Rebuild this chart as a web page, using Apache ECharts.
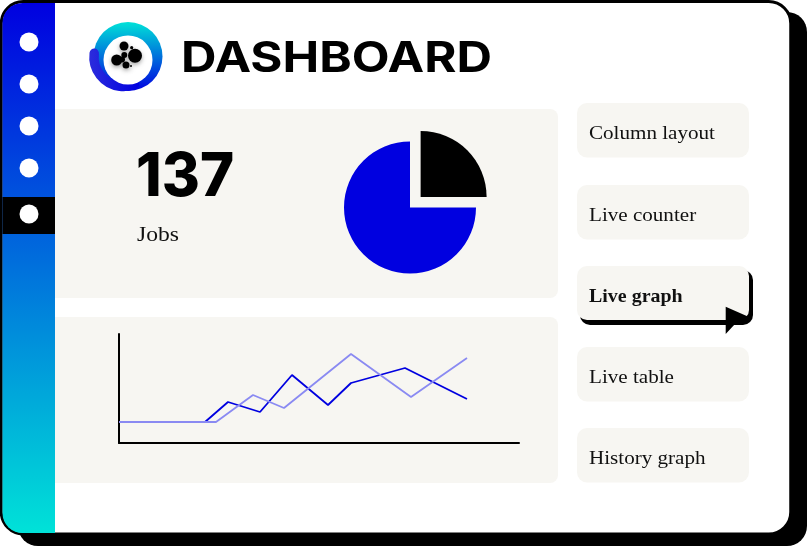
<!DOCTYPE html>
<html lang="en">

<head>
    <meta charset="UTF-8">
    <title>Dashboard</title>
    <style>
        html, body { margin: 0; padding: 0; background: #fff; overflow: hidden; }
    </style>
</head>

<body>
    <div id="main" style="width: 807px;height:546px;"></div>

    <script src="https://cdn.jsdelivr.net/npm/echarts@6/dist/echarts.min.js"></script>
    <script>
        let titleText = 'DASHBOARD';
        let counterValue = '137';
        let counterLabel = 'Jobs';
        let menuLabels = ['Column layout', 'Live counter', 'Live graph', 'Live table', 'History graph'];
        let activeMenu = 'Live graph';

        let pieNames = ['done', 'rest'];
        let pieValues = [25, 75];

        // line chart
        let darkX = [0, 86, 109, 141, 173, 209, 232, 286, 348];
        let darkY = [21, 21, 41, 31, 68, 38, 60, 75, 44];
        let lightX = [0, 97, 134, 165, 232, 292, 348];
        let lightY = [21, 21, 48, 35, 89, 46, 85];

        let BLUE = '#0000e0';
        let LIGHT = '#8a8af2';
        let PANEL = '#f7f6f2';
        let SERIF = '"Liberation Serif", serif';

        function zip(xs, ys) {
            return xs.map(function (x, i) { return [x, ys[i]]; });
        }

        function rect(x, y, w, h, r, fill, z) {
            return {
                type: 'rect', silent: true, z: z,
                shape: { x: x, y: y, width: w, height: h, r: r },
                style: { fill: fill }
            };
        }

        function circle(cx, cy, r, fill, z) {
            return {
                type: 'circle', silent: true, z: z,
                shape: { cx: cx, cy: cy, r: r },
                style: { fill: fill }
            };
        }

        function label(text, x, y, font, fill, scaleX, z) {
            return {
                type: 'text', silent: true, z: z,
                x: x, y: y, scaleX: scaleX || 1,
                style: { text: text, font: font, fill: fill || '#000', verticalAlign: 'middle' }
            };
        }

        let elements = [];

        // card and its shadow
        elements.push(rect(18, 12, 789, 534, 20, '#000', 0));
        elements.push({
            type: 'rect', silent: true, z: 1,
            shape: { x: 1.25, y: 1.5, width: 789.5, height: 532.5, r: 22 },
            style: { fill: '#fff', stroke: '#000', lineWidth: 3 }
        });

        // sidebar
        elements.push({
            type: 'rect', silent: true, z: 1,
            shape: { x: 2.5, y: 3, width: 52.5, height: 530, r: [20, 0, 0, 20] },
            style: {
                fill: new echarts.graphic.LinearGradient(0, 0, 0, 1, [
                    { offset: 0, color: '#0000e0' },
                    { offset: 1, color: '#00e2d8' }
                ])
            }
        });
        elements.push(rect(2.5, 197, 52.5, 37, 0, '#000', 1));
        [42, 84, 126, 168, 214].forEach(function (y) {
            elements.push(circle(29, y, 9.5, '#fff', 1));
        });

        // logo
        elements.push({
            type: 'circle', silent: true, z: 1,
            shape: { cx: 128, cy: 56.5, r: 34.5 },
            style: {
                fill: new echarts.graphic.LinearGradient(0, 0, 0, 1, [
                    { offset: 0, color: '#00e2d8' },
                    { offset: 1, color: '#0000e0' }
                ])
            }
        });
        elements.push({
            type: 'arc', silent: true, z: 1,
            shape: { cx: 123.5, cy: 57, r: 29.5, startAngle: Math.PI * 1.04, endAngle: Math.PI * 0.38, clockwise: false },
            style: {
                fill: 'none', lineWidth: 9.5, lineCap: 'round',
                stroke: new echarts.graphic.LinearGradient(0, 0, 1, 0, [
                    { offset: 0, color: '#2c2cdc' },
                    { offset: 1, color: '#0000e0' }
                ])
            }
        });
        elements.push(circle(128, 60, 24.5, '#fff', 1));
        [[124, 46, 4.5], [135, 55.7, 7], [116.7, 60, 5.5], [126, 65, 3.5], [124.3, 55, 3], [131.7, 47.7, 1.6], [122, 59.5, 3], [131, 66, 1]].forEach(function (b) {
            let dot = circle(b[0], b[1], b[2], '#000', 1);
            dot.style.shadowBlur = 4;
            dot.style.shadowColor = 'rgba(0,0,0,0.35)';
            dot.style.shadowOffsetY = 2;
            elements.push(dot);
        });

        // title
        elements.push(label(titleText, 181, 59, '700 42px Inter', '#000', 1.17, 1));

        // panels
        elements.push(rect(55, 109, 503, 189, [0, 8, 8, 0], PANEL, 1));
        elements.push(rect(55, 317, 503, 166, [0, 8, 8, 0], PANEL, 1));
        elements.push(label(counterValue, 136, 178, '800 60px Inter', '#000', 0.97, 1));
        elements.push(label(counterLabel, 137, 236, '20px ' + SERIF, '#111', 1.18, 1));

        // menu on the right
        let menuTops = [103, 185, 266, 347, 428];
        menuLabels.forEach(function (name, i) {
            let top = menuTops[i];
            let active = name === activeMenu;
            if (active) {
                elements.push(rect(580, top + 4, 173, 55, 10, '#000', 1));
                elements.push(rect(577, top, 172, 54, 10, PANEL, 2));
                elements.push({
                    type: 'polygon', silent: true, z: 3,
                    shape: { points: [[725.7, 306.7], [749, 317], [735, 324], [725.7, 334]] },
                    style: { fill: '#000' }
                });
            } else {
                elements.push(rect(577, top, 172, 54.5, 10, PANEL, 1));
            }
            elements.push(label(name, 589, top + 31, (active ? '700 ' : '') + '19px ' + SERIF, '#111', active ? 1.05 : 1.11, 3));
        });

        let mychart = echarts.init(document.getElementById('main'), null, { renderer: 'canvas' });
        mychart.setOption({
            animation: false,
            graphic: { elements: elements },
            grid: { left: 119, top: 334, width: 400, height: 109 },
            xAxis: {
                type: 'value', min: 0, max: 400, z: 4,
                axisLine: { show: true, lineStyle: { color: '#000', width: 2 } },
                axisTick: { show: false }, axisLabel: { show: false }, splitLine: { show: false }
            },
            yAxis: {
                type: 'value', min: 0, max: 109, z: 4,
                axisLine: { show: true, lineStyle: { color: '#000', width: 2 } },
                axisTick: { show: false }, axisLabel: { show: false }, splitLine: { show: false }
            },
            series: [
                {
                    type: 'line', z: 5, data: zip(darkX, darkY), showSymbol: false, silent: true,
                    lineStyle: { color: BLUE, width: 1.8 }
                },
                {
                    type: 'line', z: 6, data: zip(lightX, lightY), showSymbol: false, silent: true,
                    lineStyle: { color: LIGHT, width: 1.8 }
                },
                {
                    type: 'pie', z: 5, center: [410, 207.5], radius: [0, 66], startAngle: 90, silent: true,
                    selectedMode: 'multiple', selectedOffset: 15,
                    label: { show: false }, labelLine: { show: false },
                    data: [
                        { name: pieNames[0], value: pieValues[0], selected: true, itemStyle: { color: '#000' } },
                        { name: pieNames[1], value: pieValues[1], itemStyle: { color: BLUE } }
                    ]
                }
            ]
        });
    </script>
</body>

</html>
